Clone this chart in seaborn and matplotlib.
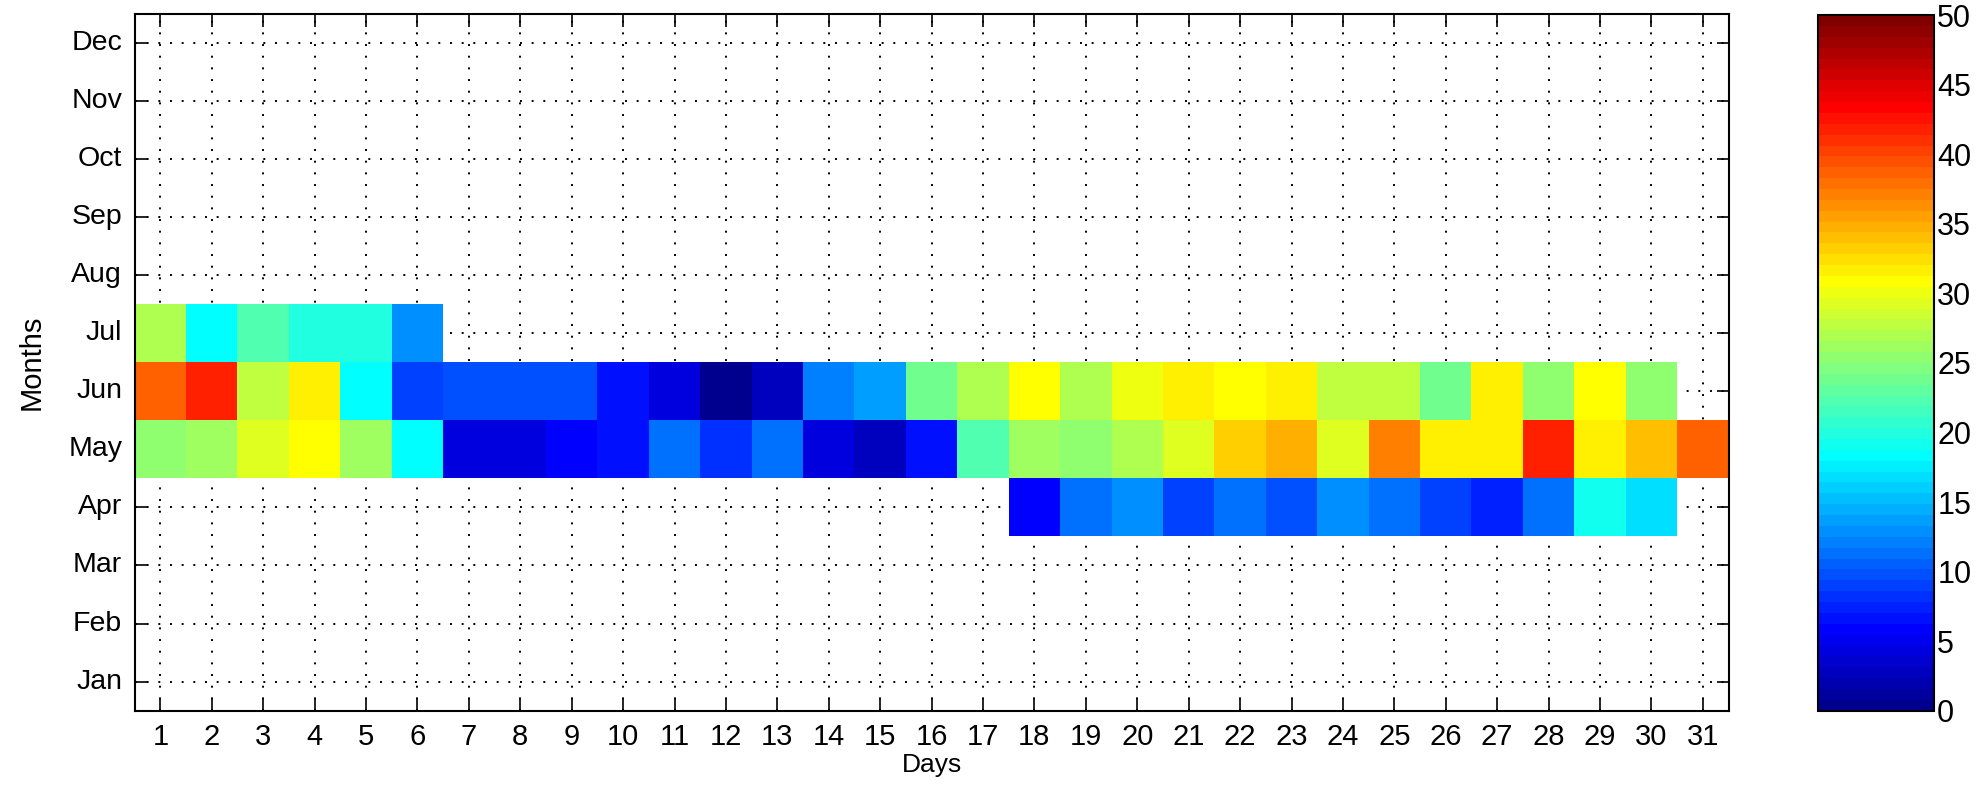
import numpy as np
import pandas as pd
import seaborn as sns
import matplotlib.pyplot as plt
from matplotlib.colors import ListedColormap

sns.set_theme(style="white")
plt.rcParams['font.family'] = ['Liberation Sans', 'DejaVu Sans']
plt.rcParams['text.color'] = 'black'
plt.rcParams['axes.labelcolor'] = 'black'
plt.rcParams['xtick.color'] = 'black'
plt.rcParams['ytick.color'] = 'black'

nan = np.nan
days = list(range(1, 32))
months = ['Jan', 'Feb', 'Mar', 'Apr', 'May', 'Jun',
          'Jul', 'Aug', 'Sep', 'Oct', 'Nov', 'Dec']

# values (jet colour scale, 0-50)
apr = [nan] * 17 + [5.9, 11.3, 12.9, 9.0, 11.3, 9.8, 12.9, 11.3, 9.0, 7.4,
                    11.3, 19.1, 16.8, nan]
may = [25.4, 26.2, 29.3, 30.9, 26.2, 18.4, 4.3, 4.3, 5.5, 6.6,
       11.3, 8.2, 11.3, 4.3, 2.7, 6.6, 22.3, 26.2, 25.4, 27.0,
       29.3, 33.2, 34.8, 29.3, 37.1, 31.6, 31.6, 41.8, 31.6, 34.0, 38.7]
jun = [38.7, 41.8, 27.7, 31.6, 18.4, 9.0, 9.8, 9.8, 9.8, 6.6,
       4.3, 0.4, 2.7, 12.1, 13.7, 23.8, 27.0, 30.9, 27.0, 30.1,
       31.6, 30.9, 31.6, 27.7, 27.7, 23.8, 31.6, 25.4, 30.9, 25.4, nan]
jul = [27.0, 18.4, 22.3, 19.9, 19.9, 12.9] + [nan] * 25

empty = [nan] * 31
rows = {m: empty for m in months}
rows['Apr'] = apr
rows['May'] = may
rows['Jun'] = jun
rows['Jul'] = jul
df = pd.DataFrame([rows[m] for m in months], index=months, columns=days)
df = df.iloc[::-1]  # Dec on top


def matlab_jet(m=64):
    # same construction as matlab's jet(m)
    n = int(np.ceil(m / 4))
    u = np.concatenate([np.arange(1, n + 1) / n, np.ones(n - 1),
                        np.arange(n, 0, -1) / n])
    g = int(np.ceil(n / 2)) - (m % 4 == 1) + np.arange(1, len(u) + 1)
    J = np.zeros((m, 3))
    for idx, ch in ((g + n, 0), (g, 1), (g - n, 2)):
        ok = (idx >= 1) & (idx <= m)
        J[idx[ok] - 1, ch] = u[ok]
    return ListedColormap(J)


fig = plt.figure(figsize=(19.8, 7.95), dpi=100)
ax = fig.add_axes([0.068, 0.106, 0.805, 0.877])
cax = fig.add_axes([0.918, 0.106, 0.059, 0.875])

sns.heatmap(df, cmap=matlab_jet(64), vmin=0, vmax=50, ax=ax, cbar_ax=cax)

# box, inward ticks, dotted grid under the cells
for s in ax.spines.values():
    s.set_visible(True)
    s.set_color('black')
    s.set_linewidth(1.5)
ax.set_axisbelow(True)
ax.grid(True, ls=(0, (1, 5)), color='black', lw=1.4)
ax.tick_params(direction='in', length=9, width=1.2,
               top=True, right=True, bottom=True, left=True)
ax.tick_params(axis='y', pad=9, labelsize=20.5)
ax.tick_params(axis='x', pad=9, labelsize=21)
ax.set_yticklabels(df.index, rotation=0)
ax.set_xticklabels(days, rotation=0)
ax.set_xlabel('Days', fontsize=19, labelpad=1)
ax.set_ylabel('Months', fontsize=21)
ax.yaxis.set_label_coords(-0.056, 0.5)

cb = ax.collections[0].colorbar
cb.set_ticks(range(0, 51, 5))
cb.outline.set_visible(True)
cb.outline.set_linewidth(1.5)
cb.outline.set_edgecolor('black')
cax.tick_params(direction='in', length=9, width=1.2,
                left=True, right=True, labelsize=22, pad=2)

fig.savefig('out.png', dpi=100)
